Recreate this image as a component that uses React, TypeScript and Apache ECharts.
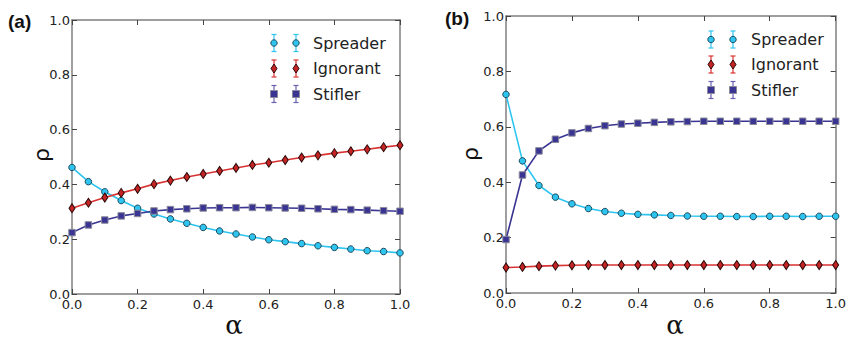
import React, { useEffect, useRef } from "react";
import * as echarts from "echarts";

const alpha = [0, 0.05, 0.1, 0.15, 0.2, 0.25, 0.3, 0.35, 0.4, 0.45, 0.5, 0.55, 0.6, 0.65, 0.7, 0.75, 0.8, 0.85, 0.9, 0.95, 1.0];

const spreaderA = [0.462, 0.41, 0.373, 0.341, 0.313, 0.292, 0.274, 0.258, 0.243, 0.23, 0.219, 0.208, 0.198, 0.191, 0.184, 0.176, 0.17, 0.164, 0.158, 0.155, 0.15];
const ignorantA = [0.313, 0.333, 0.352, 0.369, 0.384, 0.401, 0.414, 0.427, 0.438, 0.449, 0.46, 0.471, 0.479, 0.489, 0.498, 0.506, 0.514, 0.521, 0.528, 0.536, 0.543];
const stiflerA = [0.224, 0.252, 0.27, 0.285, 0.294, 0.303, 0.308, 0.311, 0.314, 0.315, 0.315, 0.316, 0.315, 0.314, 0.313, 0.311, 0.309, 0.308, 0.306, 0.304, 0.302];

const spreaderB = [0.717, 0.477, 0.388, 0.346, 0.322, 0.305, 0.294, 0.288, 0.284, 0.282, 0.28, 0.278, 0.277, 0.277, 0.276, 0.276, 0.277, 0.277, 0.276, 0.277, 0.277];
const ignorantB = [0.092, 0.094, 0.097, 0.099, 0.1, 0.101, 0.101, 0.101, 0.101, 0.101, 0.101, 0.101, 0.101, 0.101, 0.101, 0.101, 0.101, 0.101, 0.101, 0.101, 0.101];
const stiflerB = [0.193, 0.426, 0.513, 0.555, 0.578, 0.594, 0.604, 0.61, 0.613, 0.616, 0.618, 0.619, 0.62, 0.62, 0.62, 0.62, 0.62, 0.62, 0.62, 0.62, 0.62];

const seriesNames = ["Spreader", "Ignorant", "Stifler"];

const C_SP = "#2ec4f0";
const C_IG = "#d93232";
const C_ST = "#3a3592";
const AXIS = "#7f7f7f";
const TXT = "#222222";

const pairs = (ys: number[]) => alpha.map((a, i) => [a, ys[i]]);

function mkSeries(name: string, ys: number[], ax: number) {
  const base: any = {
    name,
    type: "line",
    data: pairs(ys),
    xAxisIndex: ax,
    yAxisIndex: ax,
    smooth: false,
    z: 3,
  };
  if (name === "Spreader") {
    base.lineStyle = { color: C_SP, width: 1.6 };
    base.symbol = "circle";
    base.symbolSize = 6.5;
    base.itemStyle = { color: C_SP, borderColor: "#1d4a5c", borderWidth: 1 };
  } else if (name === "Ignorant") {
    base.lineStyle = { color: C_IG, width: 1.6 };
    base.symbol = "diamond";
    base.symbolSize = [6, 9];
    base.itemStyle = { color: "#c62424", borderColor: "#2a0808", borderWidth: 1 };
  } else {
    base.lineStyle = { color: C_ST, width: 1.6 };
    base.symbol = "rect";
    base.symbolSize = 6.5;
    base.itemStyle = { color: C_ST, borderColor: "#8a8a9a", borderWidth: 1 };
  }
  return base;
}

function xAx(grid: number, pos: "bottom" | "top") {
  return {
    type: "value",
    gridIndex: grid,
    position: pos,
    min: 0,
    max: 1,
    interval: 0.2,
    axisLine: { show: true, onZero: false, lineStyle: { color: AXIS, width: 1.5 } },
    axisTick: { show: true, inside: true, length: 5, lineStyle: { color: "#444", width: 1 } },
    axisLabel: {
      show: pos === "bottom",
      color: TXT,
      fontFamily: "DejaVu Sans",
      fontSize: 13,
      margin: 4,
      formatter: (v: number) => v.toFixed(1),
    },
    splitLine: { show: false },
  };
}

function yAx(grid: number, pos: "left" | "right") {
  return {
    type: "value",
    gridIndex: grid,
    position: pos,
    min: 0,
    max: 1,
    interval: 0.2,
    axisLine: { show: true, onZero: false, lineStyle: { color: AXIS, width: 1.5 } },
    axisTick: { show: true, inside: true, length: 5, lineStyle: { color: "#444", width: 1 } },
    axisLabel: {
      show: pos === "left",
      color: TXT,
      fontFamily: "DejaVu Sans",
      fontSize: 13,
      margin: 2,
      formatter: (v: number) => v.toFixed(1),
    },
    splitLine: { show: false },
  };
}

function legendGraphics(xm1: number, xm2: number, xt: number, ys: number[]) {
  const els: any[] = [];
  const errCols = [C_SP, C_IG, "#6a62b0"];
  seriesNames.forEach((name, i) => {
    const y = ys[i];
    [xm1, xm2].forEach((x) => {
      const col = errCols[i];
      els.push({ type: "line", shape: { x1: x, y1: y - 8.5, x2: x, y2: y + 8.5 }, style: { stroke: col, lineWidth: 1.2 } });
      els.push({ type: "line", shape: { x1: x - 2.5, y1: y - 8.5, x2: x + 2.5, y2: y - 8.5 }, style: { stroke: col, lineWidth: 1.2 } });
      els.push({ type: "line", shape: { x1: x - 2.5, y1: y + 8.5, x2: x + 2.5, y2: y + 8.5 }, style: { stroke: col, lineWidth: 1.2 } });
      if (i === 0) {
        els.push({ type: "circle", shape: { cx: x, cy: y, r: 3.2 }, style: { fill: C_SP, stroke: "#1d4a5c", lineWidth: 1 } });
      } else if (i === 1) {
        els.push({
          type: "polygon",
          shape: { points: [[x, y - 4.5], [x + 3, y], [x, y + 4.5], [x - 3, y]] },
          style: { fill: "#c62424", stroke: "#2a0808", lineWidth: 1 },
        });
      } else {
        els.push({ type: "rect", shape: { x: x - 3.5, y: y - 3.5, width: 7, height: 7 }, style: { fill: C_ST, stroke: "#8a8a9a", lineWidth: 1 } });
      }
    });
    els.push({
      type: "text",
      x: xt,
      y,
      style: { text: name, fill: TXT, font: "16px 'DejaVu Sans'", textAlign: "left", textVerticalAlign: "middle" },
    });
  });
  return els;
}

export default function App() {
  const ref = useRef<HTMLDivElement>(null);
  useEffect(() => {
    if (!ref.current) return;
    const chart = echarts.init(ref.current, null, { renderer: "svg" });
    const option: any = {
      animation: false,
      backgroundColor: "#ffffff",
      grid: [
        { left: 72, top: 20, width: 328, height: 274 },
        { left: 506, top: 16, width: 331, height: 277 },
      ],
      xAxis: [xAx(0, "bottom"), xAx(0, "top"), xAx(1, "bottom"), xAx(1, "top")],
      yAxis: [yAx(0, "left"), yAx(0, "right"), yAx(1, "left"), yAx(1, "right")],
      series: [
        mkSeries("Spreader", spreaderA, 0),
        mkSeries("Ignorant", ignorantA, 0),
        mkSeries("Stifler", stiflerA, 0),
        mkSeries("Spreader", spreaderB, 2),
        mkSeries("Ignorant", ignorantB, 2),
        mkSeries("Stifler", stiflerB, 2),
      ],
      graphic: [
        { type: "text", x: 8, y: 21, style: { text: "(a)", fill: "#111", font: "bold 19px 'Liberation Sans'", textVerticalAlign: "middle" } },
        { type: "text", x: 445, y: 18, style: { text: "(b)", fill: "#111", font: "bold 19px 'Liberation Sans'", textVerticalAlign: "middle" } },
        { type: "text", x: 41, y: 155, rotation: Math.PI / 2, style: { text: "ρ", fill: "#111", font: "22px 'DejaVu Sans'", textAlign: "center", textVerticalAlign: "middle" } },
        { type: "text", x: 470, y: 154, rotation: Math.PI / 2, style: { text: "ρ", fill: "#111", font: "22px 'DejaVu Sans'", textAlign: "center", textVerticalAlign: "middle" } },
        { type: "text", x: 234, y: 325, style: { text: "α", fill: "#111", font: "26px 'DejaVu Serif'", textAlign: "center", textVerticalAlign: "middle" } },
        { type: "text", x: 675, y: 325, style: { text: "α", fill: "#111", font: "26px 'DejaVu Serif'", textAlign: "center", textVerticalAlign: "middle" } },
        ...legendGraphics(274, 296, 313, [43, 68.5, 94]),
        ...legendGraphics(711, 733, 751, [39.5, 64.5, 90]),
      ],
    };
    chart.setOption(option);
    return () => chart.dispose();
  }, []);
  return <div ref={ref} style={{ position: "absolute", left: 0, top: 0, width: 849, height: 339 }} />;
}
